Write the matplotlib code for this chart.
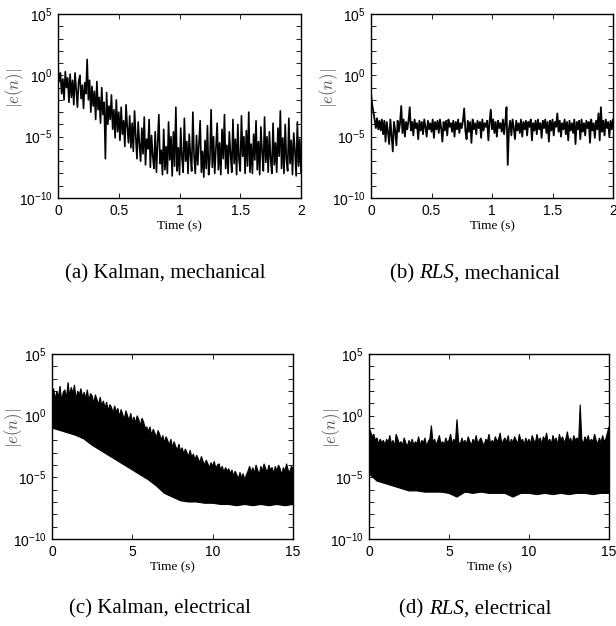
import matplotlib
matplotlib.use("Agg")
import matplotlib.pyplot as plt
import numpy as np

plt.rcParams['font.family'] = ['Liberation Sans', 'DejaVu Sans']
plt.rcParams['mathtext.fontset'] = 'cm'

# mechanical runs, log10|e(n)| sampled every 0.01 s
t_mech = np.arange(201) * 0.01
kalman_mech = [
    0.7, -0.5, 0.2, -1.5, -0.3, -2.0, 0.3, -1.0, -0.2, -2.2,
    0.1, -1.8, -0.4, -2.4, 0.2, -1.2, -2.6, -0.5, 0.0, -1.9,
    -0.8, -2.7, -0.6, -1.5, 1.3, -2.0, -0.4, -3.0, -0.9, -2.5,
    -1.3, -3.6, -0.5, -2.8, -1.8, -3.9, -1.0, -3.2, -2.2, -6.8,
    -1.4, -4.0, -2.5, -3.6, -1.6, -4.4, -2.8, -5.1, -2.0, -4.6,
    -3.0, -5.3, -2.6, -4.8, -3.7, -5.8, -2.4, -4.2, -5.5, -3.3,
    -5.9, -3.9, -6.2, -2.9, -5.0, -6.8, -3.8, -5.6, -7.0, -4.3,
    -6.4, -3.4, -7.3, -5.2, -6.0, -3.6, -7.5, -4.9, -6.6, -7.6,
    -4.6, -7.9, -5.5, -3.2, -7.2, -6.1, -8.1, -4.4, -7.7, -5.8,
    -8.0, -3.8, -6.9, -5.0, -8.2, -4.6, -7.4, -2.6, -7.8, -5.9,
    -8.1, -4.3, -6.7, -7.9, -3.5, -7.0, -5.4, -8.0, -4.8, -6.5,
    -7.8, -3.0, -6.6, -8.0, -4.9, -7.3, -5.6, -3.7, -7.9, -6.2,
    -8.3, -5.3, -7.6, -4.1, -8.1, -6.9, -2.8, -7.5, -5.0, -8.0,
    -6.0, -3.9, -7.7, -5.5, -8.1, -4.4, -6.8, -3.2, -7.6, -5.7,
    -8.0, -4.6, -6.4, -7.9, -3.6, -7.2, -5.2, -8.1, -4.0, -6.9,
    -7.8, -3.3, -6.6, -5.0, -8.0, -4.5, -7.4, -3.0, -7.9, -5.6,
    -8.0, -4.8, -6.9, -3.7, -7.7, -5.4, -8.1, -4.2, -6.3, -7.8,
    -3.4, -7.1, -5.0, -7.9, -4.6, -6.8, -8.0, -3.9, -7.3, -5.5,
    -7.9, -4.3, -6.6, -2.9, -7.6, -5.1, -8.0, -4.0, -6.9, -7.8,
    -3.5, -7.2, -5.3, -8.1, -4.7, -6.1, -8.2, -3.8, -7.4, -5.2, -7.9,
]
rls_mech = [
    -1.5, -2.4, -3.0, -3.6, -4.3, -3.5, -4.4, -3.7, -4.5, -3.6,
    -4.8, -3.7, -5.4, -3.8, -4.6, -5.6, -3.6, -4.9, -6.2, -3.8,
    -4.5, -5.7, -3.7, -4.6, -3.9, -2.5, -4.7, -3.6, -5.0, -3.8,
    -4.4, -3.7, -2.6, -4.5, -3.8, -4.9, -3.6, -4.3, -3.9, -5.2,
    -3.7, -4.5, -3.8, -4.8, -3.6, -4.2, -5.0, -3.7, -4.4, -3.9,
    -4.6, -3.6, -5.1, -3.8, -4.4, -3.7, -4.7, -3.6, -4.3, -5.4,
    -3.8, -4.5, -3.7, -4.9, -3.6, -4.2, -3.9, -4.6, -3.7, -5.0,
    -3.8, -4.4, -3.6, -4.7, -3.9, -4.3, -3.7, -2.7, -4.5, -5.2,
    -3.7, -4.6, -3.8, -5.5, -3.6, -4.4, -3.9, -4.8, -3.7, -4.3,
    -3.8, -5.1, -3.6, -4.5, -3.9, -4.2, -3.7, -5.3, -3.8, -2.8,
    -4.4, -3.6, -4.7, -3.8, -5.0, -3.7, -4.3, -3.9, -4.6, -3.6,
    -4.8, -3.8, -2.6, -7.3, -4.4, -3.7, -4.9, -3.6, -4.3, -5.2,
    -3.7, -4.5, -3.9, -4.7, -3.6, -5.0, -3.8, -4.4, -3.7, -4.9,
    -3.8, -4.2, -3.6, -5.3, -3.9, -4.5, -3.7, -4.8, -3.6, -4.4,
    -3.9, -5.1, -3.7, -4.3, -3.6, -4.7, -3.8, -5.4, -3.7, -4.5,
    -3.6, -4.9, -3.8, -4.2, -3.1, -4.6, -3.7, -5.0, -3.9, -4.4,
    -3.6, -4.8, -3.8, -5.3, -3.7, -4.5, -3.9, -4.7, -3.6, -5.6,
    -3.8, -4.4, -3.7, -5.2, -3.6, -4.6, -3.9, -4.9, -3.7, -4.3,
    -3.8, -5.5, -3.6, -4.5, -3.9, -5.1, -3.7, -4.4, -3.1, -5.3,
    -2.6, -4.6, -3.7, -4.9, -3.6, -4.3, -3.8, -5.0, -3.7, -4.4, -3.6,
]

# electrical runs are too dense to trace: upper edge every 0.1 s, lower edge every 0.5 s
t_up = np.arange(151) * 0.1
t_low = np.arange(31) * 0.5
kalman_elec_up = [
    1.6, 2.2, 1.3, 2.0, 1.5, 2.4, 1.2, 1.9, 2.1, 1.4,
    2.7, 1.6, 2.3, 1.8, 2.5, 1.3, 2.0, 1.7, 2.2, 1.5,
    1.9, 1.4, 2.1, 1.2, 1.8, 1.6, 1.0, 1.7, 1.3, 0.9,
    1.5, 0.8, 1.2, 0.6, 1.1, 0.4, 0.9, 0.7, 0.2, 0.8,
    0.3, 0.6, -0.1, 0.5, 0.1, -0.3, 0.4, 0.0, -0.4, 0.2,
    -0.5, -0.1, -0.6, 0.0, -0.3, -0.8, -0.2, -0.5, -1.0, -0.9,
    -1.3, -0.9, -1.6, -1.1, -1.4, -1.8, -1.2, -1.5, -2.0, -1.6,
    -2.2, -1.7, -2.0, -2.4, -1.9, -2.6, -2.1, -2.5, -2.8, -2.3,
    -2.9, -2.6, -3.1, -2.7, -3.0, -3.3, -2.8, -3.4, -3.1, -3.6,
    -3.2, -3.5, -3.8, -3.3, -3.7, -4.0, -3.6, -3.9, -4.2, -3.8,
    -4.1, -3.7, -4.3, -4.0, -3.9, -4.4, -4.1, -4.6, -4.2, -4.5,
    -4.3, -4.7, -4.4, -4.9, -4.5, -4.8, -5.1, -4.6, -5.0, -4.7,
    -5.2, -4.8, -4.5, -4.1, -4.6, -4.2, -4.7, -4.0, -4.4, -4.8,
    -4.1, -4.5, -3.9, -4.3, -4.6, -4.0, -4.4, -4.2, -4.7, -4.1,
    -4.5, -4.0, -4.3, -4.8, -4.2, -4.5, -3.9, -4.4, -4.6, -4.1, -4.3,
]
kalman_elec_low = [
    -1.0, -1.2, -1.4, -1.6, -1.9, -2.4, -2.8, -3.2, -3.6, -4.0,
    -4.4, -4.8, -5.2, -5.7, -6.3, -6.6, -6.9, -7.0, -7.0, -7.1,
    -7.1, -7.2, -7.2, -7.3, -7.2, -7.3, -7.2, -7.3, -7.2, -7.3, -7.2,
]
rls_elec_up = [
    -1.0, -1.3, -1.7, -1.5, -2.0, -1.8, -2.3, -1.9, -2.2, -2.0,
    -2.4, -1.9, -2.2, -1.6, -2.3, -2.0, -2.5, -1.5, -1.9, -2.3,
    -2.1, -2.4, -1.8, -2.2, -2.5, -2.0, -2.3, -1.9, -2.4, -2.1,
    -2.3, -1.7, -2.4, -2.0, -2.2, -1.8, -2.5, -2.1, -1.9, -0.8,
    -2.2, -1.9, -2.4, -2.0, -1.6, -2.3, -2.1, -2.4, -1.8, -2.2,
    -2.0, -1.5, -2.3, -1.9, -2.2, -0.3, -2.1, -2.4, -1.8, -2.2,
    -2.0, -2.3, -1.7, -2.1, -2.4, -1.9, -2.2, -1.6, -2.3, -2.0,
    -1.8, -2.2, -2.4, -1.9, -2.1, -1.5, -2.3, -2.0, -2.2, -1.7,
    -2.1, -1.9, -1.4, -2.3, -2.0, -1.8, -2.2, -1.6, -2.4, -1.9,
    -2.2, -1.7, -2.0, -2.3, -1.5, -2.1, -1.9, -2.4, -1.8, -2.2,
    -1.9, -2.3, -1.6, -2.0, -2.2, -1.5, -2.1, -1.8, -2.3, -1.7,
    -2.0, -1.4, -2.2, -1.9, -2.3, -1.6, -2.1, -1.8, -2.4, -1.5,
    -2.0, -1.7, -2.2, -1.9, -1.3, -2.1, -1.8, -2.3, -1.6, -2.0,
    -1.8, -2.2, 0.9, -1.9, -2.3, -1.7, -2.1, -1.6, -2.2, -1.9,
    -2.1, -1.5, -2.0, -2.3, -1.8, -2.2, -1.6, -2.1, -1.9, -1.4, -0.9,
]
rls_elec_low = [
    -4.7, -5.3, -5.5, -5.7, -5.9, -6.1, -6.1, -6.2, -6.2, -6.2,
    -6.3, -6.6, -6.2, -6.3, -6.2, -6.3, -6.3, -6.3, -6.6, -6.3,
    -6.3, -6.4, -6.3, -6.4, -6.3, -6.4, -6.3, -6.3, -6.4, -6.3, -6.3,
]

# caption pieces: (prefix, italic part, suffix)
captions = [("(a) Kalman, mechanical", "", ""),
            ("(b) ", "RLS", ", mechanical"),
            ("(c) Kalman, electrical", "", ""),
            ("(d) ", "RLS", ", electrical")]

fig = plt.figure(figsize=(6.16, 6.26), dpi=100)
rects = [
    [58 / 616, 1 - 198 / 626, 243 / 616, 184 / 626],
    [371 / 616, 1 - 198 / 626, 242 / 616, 184 / 626],
    [52 / 616, 1 - 539 / 626, 241 / 616, 185 / 626],
    [369 / 616, 1 - 539 / 626, 240 / 616, 185 / 626],
]
axes = [fig.add_axes(r) for r in rects]


def style(ax, xmax, xticks, label_x):
    ax.set_yscale('log')
    ax.set_ylim(1e-10, 1e5)
    ax.set_xlim(0, xmax)
    ax.set_xticks(xticks)
    ax.set_xticklabels([('%g' % v) for v in xticks])
    ax.set_yticks([1e-10, 1e-5, 1e0, 1e5])
    ax.set_yticks([10.0 ** k for k in range(-10, 6) if k % 5 != 0], minor=True)
    ax.set_yticklabels([], minor=True)
    ax.tick_params(which='both', direction='in', top=True, right=True,
                   length=3.5, width=0.6, labelsize=10, pad=4)
    ax.tick_params(axis='x', which='minor', bottom=False, top=False)
    for s in ax.spines.values():
        s.set_linewidth(1.0)
    ax.set_xlabel('Time (s)', family='Liberation Serif', fontsize=9.5, labelpad=2)
    ax.set_ylabel('$|e(n)|$', fontsize=12, color='#555555')
    ax.yaxis.set_label_coords(label_x, 0.6)


ax = axes[0]
ax.plot(t_mech, 10.0 ** np.array(kalman_mech), color='black', lw=1.2)
style(ax, 2, [0, 0.5, 1, 1.5, 2], -0.13)

ax = axes[1]
ax.plot(t_mech, 10.0 ** np.array(rls_mech), color='black', lw=1.3)
style(ax, 2, [0, 0.5, 1, 1.5, 2], -0.13)

for ax, up, low in [(axes[2], kalman_elec_up, kalman_elec_low),
                    (axes[3], rls_elec_up, rls_elec_low)]:
    xs = np.concatenate([t_up, t_low[::-1]])
    ys = 10.0 ** np.concatenate([up, low[::-1]])
    ax.fill(xs, ys, color='black', lw=0.8)
style(axes[2], 15, [0, 5, 10, 15], -0.11)
style(axes[3], 15, [0, 5, 10, 15], -0.11)

# captions drawn in pieces so that RLS can be italic
renderer = fig.canvas.get_renderer()
cap_pos = [(165, 274), (475, 274), (160, 609), (475, 609)]
for (cx, cy), (pre, ital, post) in zip(cap_pos, captions):
    parts = [(pre, 'normal'), (ital, 'italic'), (post, 'normal')]
    texts = []
    for s, st in parts:
        if s:
            texts.append(fig.text(0, 1 - cy / 626, s, ha='left', va='center',
                                  family='Liberation Serif', style=st, fontsize=15))
    widths = [t.get_window_extent(renderer).width for t in texts]
    x = cx - sum(widths) / 2
    for t, w in zip(texts, widths):
        t.set_x(x / 616)
        x += w

fig.savefig('out.png', dpi=100)
